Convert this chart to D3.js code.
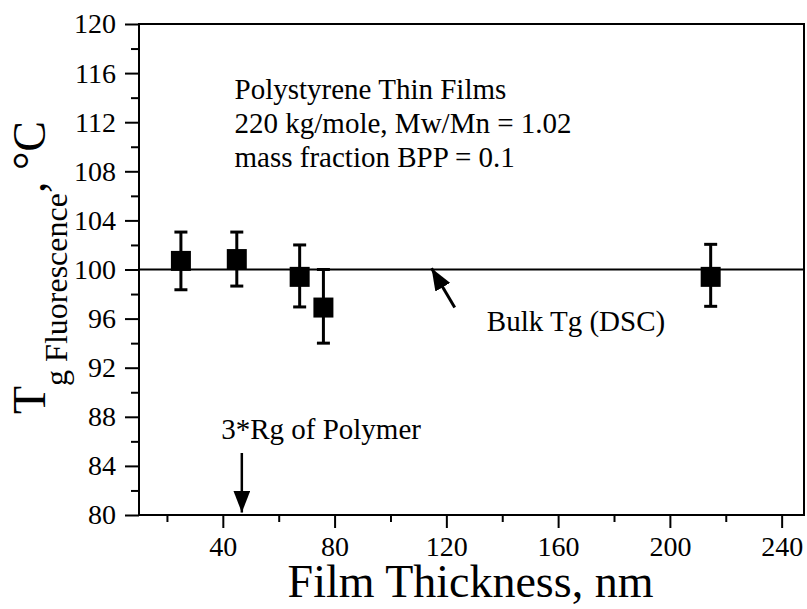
<!DOCTYPE html>
<html>
<head>
<meta charset="utf-8">
<script src="https://cdn.jsdelivr.net/npm/d3@7"></script>
<style>
  body { margin: 0; background: #fff; }
  svg text { font-family: "Liberation Serif", "Times New Roman", Times, serif; fill: #000; }
</style>
</head>
<body>
<div id="chart"></div>
<script>
// film thickness (nm) and Tg by fluorescence (deg C)
var thickness = [25, 45, 67.5, 76, 214.6];
var tgValues = [100.7, 100.85, 99.4, 96.9, 99.4];
var errHigh = [103.05, 103.05, 102.0, 100.0, 102.05];
var errLow = [98.35, 98.65, 96.95, 94.0, 97.0];

var bulkTg = 100;

var yMajor = [80, 84, 88, 92, 96, 100, 104, 108, 112, 116, 120];
var yMinor = [82, 86, 90, 94, 98, 102, 106, 110, 114, 118];
var xMajor = [40, 80, 120, 160, 200, 240];
var xMinor = [20, 60, 100, 140, 180, 220];

var infoLines = ["Polystyrene Thin Films", "220 kg/mole, Mw/Mn = 1.02", "mass fraction BPP = 0.1"];

var w = 807, h = 609;
var mLeft = 139, mRight = 804, mTop = 24, mBottom = 515;

var svg = d3.select("#chart").append("svg")
    .attr("width", w)
    .attr("height", h);

var x = d3.scaleLinear().domain([10, 248]).range([mLeft, mRight]);
var y = d3.scaleLinear().domain([80, 120]).range([mBottom, mTop]);

//箭头
var defs = svg.append("defs");
defs.append("marker")
    .attr("id", "head")
    .attr("viewBox", "0 0 22 17")
    .attr("refX", 22)
    .attr("refY", 8.5)
    .attr("markerUnits", "userSpaceOnUse")
    .attr("markerWidth", 22)
    .attr("markerHeight", 17)
    .attr("orient", "auto")
    .append("path")
    .attr("d", "M0,0 L22,8.5 L0,17 Z")
    .attr("fill", "#000");

// frame
svg.append("rect")
    .attr("x", mLeft).attr("y", mTop)
    .attr("width", mRight - mLeft).attr("height", mBottom - mTop)
    .attr("fill", "none").attr("stroke", "#000").attr("stroke-width", 2);

// y axis
var yAxis = svg.append("g").attr("transform", "translate(" + mLeft + ",0)");
yAxis.call(d3.axisLeft(y).tickValues(yMajor).tickSize(14).tickPadding(9).tickFormat(d3.format("d")));
yAxis.select(".domain").remove();
yAxis.selectAll("line").attr("stroke-width", 2);
yAxis.selectAll("text").attr("font-size", 28);
svg.append("g").attr("transform", "translate(" + mLeft + ",0)")
    .call(d3.axisLeft(y).tickValues(yMinor).tickSize(8).tickFormat(""))
    .call(g => g.select(".domain").remove())
    .selectAll("line").attr("stroke-width", 2);

// x axis
var xAxis = svg.append("g").attr("transform", "translate(0," + mBottom + ")");
xAxis.call(d3.axisBottom(x).tickValues(xMajor).tickSize(13).tickPadding(8).tickFormat(d3.format("d")));
xAxis.select(".domain").remove();
xAxis.selectAll("line").attr("stroke-width", 2);
xAxis.selectAll("text").attr("font-size", 28);
svg.append("g").attr("transform", "translate(0," + mBottom + ")")
    .call(d3.axisBottom(x).tickValues(xMinor).tickSize(7).tickFormat(""))
    .call(g => g.select(".domain").remove())
    .selectAll("line").attr("stroke-width", 2);

// axis titles
svg.append("text")
    .attr("x", (mLeft + mRight) / 2 - 1)
    .attr("y", 597)
    .attr("text-anchor", "middle")
    .attr("font-size", 46)
    .text("Film Thickness, nm");

var yt = svg.append("text")
    .attr("transform", "rotate(-90)")
    .attr("x", -414)
    .attr("y", 45)
    .attr("font-size", 46);
yt.append("tspan").text("T");
yt.append("tspan").attr("font-size", 32).attr("dy", 22).text("g Fluorescence");
yt.append("tspan").attr("dy", -22).text(", \u00B0C");

// bulk Tg line
svg.append("line")
    .attr("x1", mLeft).attr("x2", mRight)
    .attr("y1", y(bulkTg)).attr("y2", y(bulkTg))
    .attr("stroke", "#000").attr("stroke-width", 2);

// error bars
var pts = thickness.map((t, i) => ({t: t, v: tgValues[i], hi: errHigh[i], lo: errLow[i]}));
var eb = svg.append("g").selectAll("g").data(pts).enter().append("g");
eb.append("line")
    .attr("x1", d => x(d.t)).attr("x2", d => x(d.t))
    .attr("y1", d => y(d.hi)).attr("y2", d => y(d.lo))
    .attr("stroke", "#000").attr("stroke-width", 3);
eb.append("line")
    .attr("x1", d => x(d.t) - 6.5).attr("x2", d => x(d.t) + 6.5)
    .attr("y1", d => y(d.hi)).attr("y2", d => y(d.hi))
    .attr("stroke", "#000").attr("stroke-width", 3);
eb.append("line")
    .attr("x1", d => x(d.t) - 6.5).attr("x2", d => x(d.t) + 6.5)
    .attr("y1", d => y(d.lo)).attr("y2", d => y(d.lo))
    .attr("stroke", "#000").attr("stroke-width", 3);

var sq = 20;
svg.append("g").selectAll("rect").data(pts).enter().append("rect")
    .attr("x", d => x(d.t) - sq / 2)
    .attr("y", d => y(d.v) - sq / 2)
    .attr("width", sq).attr("height", sq)
    .attr("fill", "#000");

// annotations
svg.append("g").selectAll("text").data(infoLines).enter().append("text")
    .attr("x", x(44.2))
    .attr("y", (d, i) => y(113.9) + i * 34)
    .attr("font-size", 29)
    .text(d => d);

svg.append("text")
    .attr("x", x(134.5)).attr("y", y(95.0))
    .attr("font-size", 29)
    .text("Bulk Tg (DSC)");
svg.append("line")
    .attr("x1", x(123)).attr("y1", y(96.9))
    .attr("x2", x(114.7)).attr("y2", y(100.1))
    .attr("stroke", "#000").attr("stroke-width", 3)
    .attr("marker-end", "url(#head)");

svg.append("text")
    .attr("x", x(39.4)).attr("y", y(86.2))
    .attr("font-size", 29)
    .text("3*Rg of Polymer");
svg.append("line")
    .attr("x1", x(46.8)).attr("y1", y(85.05))
    .attr("x2", x(46.8)).attr("y2", y(80.2))
    .attr("stroke", "#000").attr("stroke-width", 2.5)
    .attr("marker-end", "url(#head)");
</script>
</body>
</html>
